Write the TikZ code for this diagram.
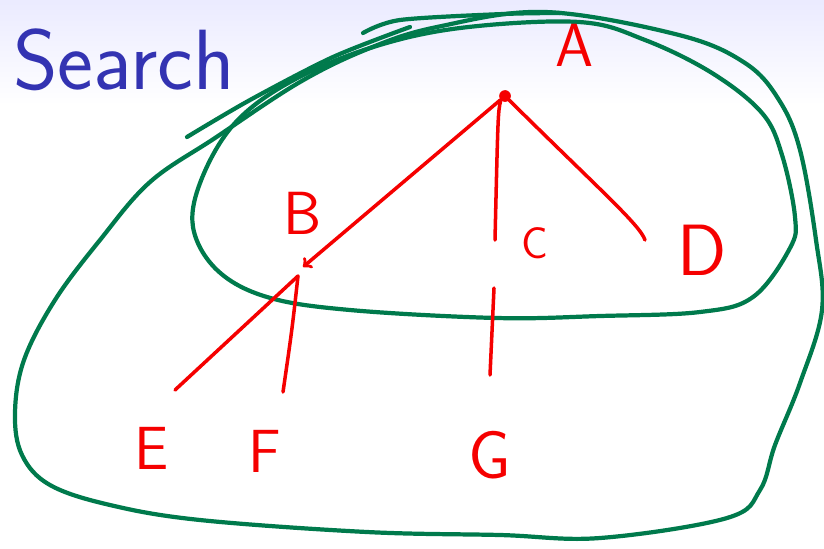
\documentclass[tikz,border=0pt]{standalone}
\usetikzlibrary{positioning,calc}

\definecolor{titleblue}{RGB}{51,51,178}
\definecolor{penred}{RGB}{245,0,0}
\definecolor{pengreen}{RGB}{0,122,76}

\begin{document}
\begin{tikzpicture}
        [x=0.03cm,y=-0.03cm,
        treept/.style={circle,fill=penred,inner sep=0pt,minimum size=0pt},
        tree/.style={draw=penred,line width=3pt,line cap=round},
        letter/.style={text=penred,font=\sffamily\fontsize{52}{52}\selectfont,inner sep=0pt},
        loop/.style={draw=pengreen,line width=3.6pt,line cap=round}]
        \useasboundingbox (0,0) rectangle (824,548);
        \shade[top color=blue!8,bottom color=white] (0,0) rectangle (824,105);
        \node[anchor=base west,text=titleblue,inner sep=0pt,
              font=\sffamily\fontsize{73}{73}\selectfont] (title) at (13,89) {Search};
        % green loops
        \draw[loop] plot[smooth cycle,tension=0.6] coordinates {(193,227) (202,178) (235,123) (290,82)
            (370,48) (460,28) (579,22) (645,40) (712,73) (762,113) (782,155) (795,217)
            (790,248) (753,297) (700,312) (600,316) (497,318) (350,310) (267,297) (217,270)};
        \draw[loop] plot[smooth cycle,tension=0.6] coordinates {(15,413) (24,360) (55,300) (100,240)
            (150,182) (215,138) (300,82) (370,48) (437,27) (545,12) (679,35) (745,63)
            (779,100) (800,150) (816,240) (822,310) (800,383) (775,445) (760,490) (727,518)
            (600,538) (500,535) (367,532) (200,520) (110,505) (50,485) (22,455)};
        \draw[loop] plot[smooth] coordinates {(187,137) (250,100) (333,57) (410,27)};
        \draw[loop] plot[smooth] coordinates {(363,33) (400,20) (503,14) (560,13)};
        % red tree
        \node[treept,minimum size=10pt] (A) at (505,96) {};
        \coordinate (B) at (303,267);
        \coordinate (C) at (495,240);
        \coordinate (D) at (645,240);
        \coordinate (Bs) at (298,276);
        \coordinate (Cs) at (494,288);
        \coordinate (E) at (175,390);
        \coordinate (F) at (283,392);
        \coordinate (G) at (490,375);
        \draw[tree,->] (A) -- (B);
        \draw[tree] (A.south west) .. controls (498,112) .. (C);
        \draw[tree] (A) .. controls (600,190) and (640,225) .. (D);
        \draw[tree] (Bs) -- (E);
        \draw[tree] (Bs) .. controls (292,330) .. (F);
        \draw[tree] (Cs) -- (G);
        \node[letter] (lA) at (575,45) {A};
        \node[letter] (lB) at (303,213) {B};
        \node[letter,font=\sffamily\fontsize{38}{38}\selectfont] (lC) at (535,243) {C};
        \node[letter,font=\sffamily\fontsize{62}{62}\selectfont] (lD) at (702,250) {D};
        \node[letter] (lE) at (152,448) {E};
        \node[letter] (lF) at (265,451) {F};
        \node[letter,font=\sffamily\fontsize{58}{58}\selectfont] (lG) at (490,455) {G};
\end{tikzpicture}
\end{document}
